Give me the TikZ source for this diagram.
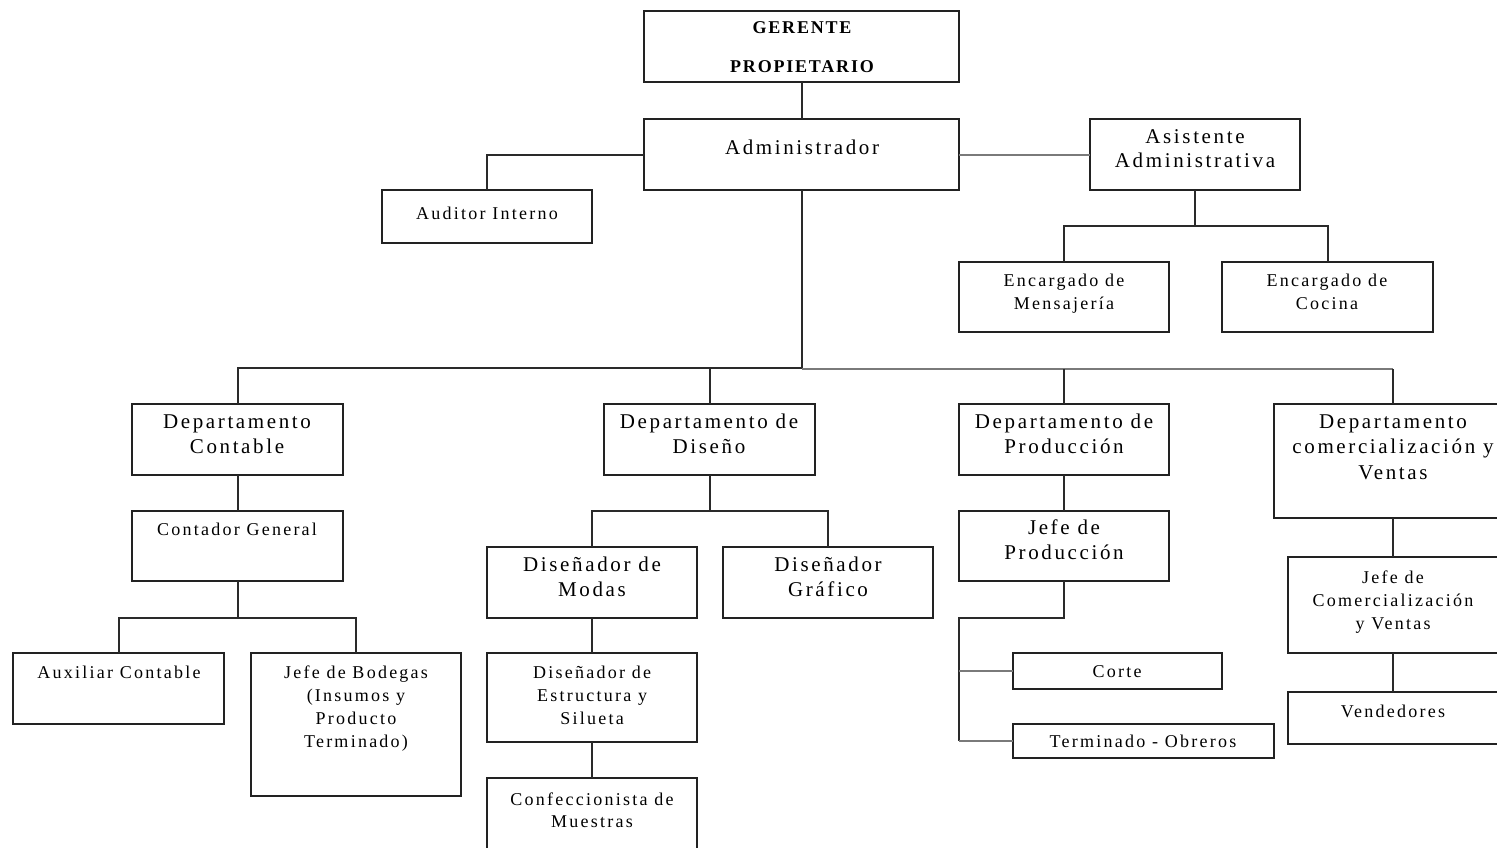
\documentclass[tikz,border=0pt]{standalone}
\usepackage{fontspec}
\setmainfont{Liberation Serif}[LetterSpace=12.5]
\newfontfamily\headfont{Liberation Serif}[LetterSpace=10]
\usetikzlibrary{calc}
\definecolor{boxc}{HTML}{222222}
\definecolor{linec}{HTML}{2A2A2A}
\definecolor{softc}{HTML}{7A7A7A}
\newcommand\orglines[1]{\begin{tabular}[t]{@{}c@{}}#1\end{tabular}}
\begin{document}
\begin{tikzpicture}[x=1pt,y=-1pt,
  org/.style={draw=boxc, line width=2pt, anchor=north west, inner sep=0pt, outer sep=0pt},
  lbl/.style={anchor=base, inner sep=0pt, text=black},
  big/.style={lbl, font=\fontsize{21}{25}\selectfont},
  sml/.style={lbl, font=\fontsize{18}{23}\selectfont},
  link/.style={draw=linec, line width=2pt},
  soft/.style={draw=softc, line width=2pt}]
\useasboundingbox (0,0) rectangle (1497,847);
\clip (0,0) rectangle (1497,847);

% boxes
\node[org, minimum width=315, minimum height=71] (ger) at (644,11) {};
\node[org, minimum width=315, minimum height=71] (adm) at (644,119) {};
\node[org, minimum width=210, minimum height=53] (aud) at (382,190) {};
\node[org, minimum width=210, minimum height=71] (asi) at (1090,119) {};
\node[org, minimum width=210, minimum height=70] (men) at (959,262) {};
\node[org, minimum width=211, minimum height=70] (coc) at (1222,262) {};
\node[org, minimum width=211, minimum height=71] (dc) at (132,404) {};
\node[org, minimum width=211, minimum height=71] (dd) at (604,404) {};
\node[org, minimum width=210, minimum height=71] (dp) at (959,404) {};
\node[org, minimum width=238, minimum height=114] (dv) at (1274,404) {};
\node[org, minimum width=211, minimum height=70] (cg) at (132,511) {};
\node[org, minimum width=211, minimum height=71] (aux) at (13,653) {};
\node[org, minimum width=210, minimum height=143] (jb) at (251,653) {};
\node[org, minimum width=210, minimum height=71] (dm) at (487,547) {};
\node[org, minimum width=210, minimum height=71] (dg) at (723,547) {};
\node[org, minimum width=210, minimum height=89] (de) at (487,653) {};
\node[org, minimum width=210, minimum height=100] (cm) at (487,778) {};
\node[org, minimum width=210, minimum height=70] (jp) at (959,511) {};
\node[org, minimum width=209, minimum height=36] (cor) at (1013,653) {};
\node[org, minimum width=261, minimum height=34] (ter) at (1013,724) {};
\node[org, minimum width=210, minimum height=96] (jc) at (1288,557) {};
\node[org, minimum width=210, minimum height=52] (ven) at (1288,692) {};

% labels (first baseline of each block)
\node[lbl, font=\fontsize{18}{39}\selectfont\headfont\bfseries] (ger-t) at (802,33) {\orglines{GERENTE\\PROPIETARIO}};
\node[big] (adm-t) at (802,154) {Administrador};
\node[sml] (aud-t) at (487,219) {Auditor Interno};
\node[big, font=\fontsize{21}{24}\selectfont] (asi-t) at (1195,143) {\orglines{Asistente\\Administrativa}};
\node[sml] (men-t) at (1064,286) {\orglines{Encargado de\\Mensajería}};
\node[sml] (coc-t) at (1327,286) {\orglines{Encargado de\\Cocina}};
\node[big] (dc-t) at (237,428) {\orglines{Departamento\\Contable}};
\node[big] (dd-t) at (709,428) {\orglines{Departamento de\\Diseño}};
\node[big] (dp-t) at (1064,428) {\orglines{Departamento de\\Producción}};
\node[big, font=\fontsize{21}{25.5}\selectfont] (dv-t) at (1393,428) {\orglines{Departamento\\comercialización y\\Ventas}};
\node[sml] (cg-t) at (237,535) {Contador General};
\node[sml] (aux-t) at (119,678) {Auxiliar Contable};
\node[sml, font=\fontsize{18}{23.3}\selectfont] (jb-t) at (356,678) {\orglines{Jefe de Bodegas\\(Insumos y\\Producto\\Terminado)}};
\node[big] (dm-t) at (592,571) {\orglines{Diseñador de\\Modas}};
\node[big] (dg-t) at (828,571) {\orglines{Diseñador\\Gráfico}};
\node[sml] (de-t) at (592,678) {\orglines{Diseñador de\\Estructura y\\Silueta}};
\node[sml, font=\fontsize{18}{22}\selectfont] (cm-t) at (592,805) {\orglines{Confeccionista de\\Muestras}};
\node[big] (jp-t) at (1064,534) {\orglines{Jefe de\\Producción}};
\node[sml] (cor-t) at (1117,677) {Corte};
\node[sml] (ter-t) at (1143,747) {Terminado - Obreros};
\node[sml] (jc-t) at (1393,583) {\orglines{Jefe de\\Comercialización\\y Ventas}};
\node[sml] (ven-t) at (1393,717) {Vendedores};

% junction points of the branch lines
\coordinate (jAsi) at (1195,226);
\coordinate (jAdm) at (801.5,368);
\coordinate (jAdmR) at (801.5,369);
\coordinate (jCg) at (237.5,618);
\coordinate (jDd) at (709.5,511);
\coordinate (jJp) at (1064,618);
\coordinate (jRail) at (959,618);

% connectors
\draw[link] (ger.south) -- (adm.north);
\draw[link] (adm.west) -| (aud.north);
\draw[soft] (adm.east) -- (asi.west);
\draw[link] (asi.south) -- (jAsi);
\draw[link] (men.north) |- (jAsi) -| (coc.north);
\draw[link] (adm.south) -- (jAdm);
\draw[link] (dc.north) |- (jAdm);
\draw[link] (dd.north) -- (dd.north |- jAdm);
\draw[soft] (jAdmR) -- (jAdmR -| dv.north);
\draw[link] (dp.north) -- (dp.north |- jAdmR);
\draw[link] (dv.north) -- (dv.north |- jAdmR);
\draw[link] (dc.south) -- (cg.north);
\draw[link] (cg.south) -- (jCg);
\draw[link] (aux.north) |- (jCg) -| (jb.north);
\draw[link] (dd.south) -- (jDd);
\draw[link] (dm.north) |- (jDd) -| (dg.north);
\draw[link] (dm.south) -- (de.north);
\draw[link] (de.south) -- (cm.north);
\draw[link] (dp.south) -- (jp.north);
\draw[link] (jp.south) -- (jJp) -- (jRail) -- (jRail |- ter.west);
\draw[soft] (jRail |- ter.west) -- (ter.west);
\draw[soft] (jRail |- cor.west) -- (cor.west);
\draw[link] (dv.south) -- (jc.north);
\draw[link] (jc.south) -- (ven.north);
\end{tikzpicture}
\end{document}
